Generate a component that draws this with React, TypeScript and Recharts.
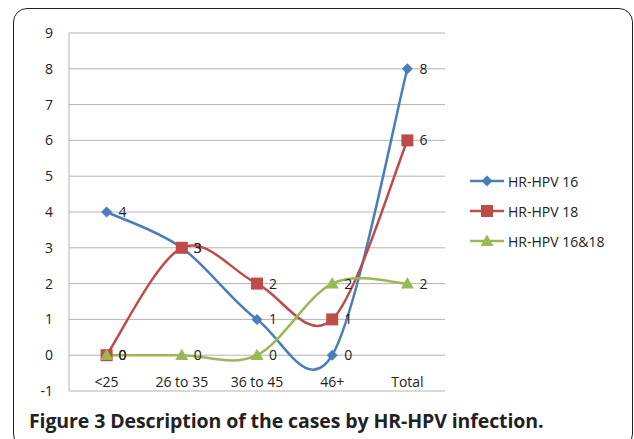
import React from 'react'
import { LineChart, Line, XAxis, YAxis, CartesianGrid } from 'recharts'

const CATEGORIES = ['<25', '26 to 35', '36 to 45', '46+', 'Total']
const HPV16 = [4, 3, 1, 0, 8]
const HPV18 = [0, 3, 2, 1, 6]
const HPV1618 = [0, 0, 0, 2, 2]
const Y_TICKS = [-1, 0, 1, 2, 3, 4, 5, 6, 7, 8, 9]

const BLUE = '#4a7ebb'
const RED = '#be4b48'
const GREEN = '#98b954'
const FONT = '"Open Sans", "Noto Sans", sans-serif'

const data = CATEGORIES.map((name, i) => ({
  name,
  hpv16: HPV16[i],
  hpv18: HPV18[i],
  hpv1618: HPV1618[i],
}))

// Excel-style smoothed line (Catmull-Rom as cubic bezier)
function excelCurve(context: any) {
  let pts: [number, number][] = []
  return {
    areaStart() {},
    areaEnd() {},
    lineStart() {
      pts = []
    },
    point(x: number, y: number) {
      pts.push([+x, +y])
    },
    lineEnd() {
      const n = pts.length
      if (!n) return
      context.moveTo(pts[0][0], pts[0][1])
      for (let i = 0; i < n - 1; i++) {
        const p0 = pts[Math.max(i - 1, 0)]
        const p1 = pts[i]
        const p2 = pts[i + 1]
        const p3 = pts[Math.min(i + 2, n - 1)]
        context.bezierCurveTo(
          p1[0] + (p2[0] - p0[0]) / 6,
          p1[1] + (p2[1] - p0[1]) / 6,
          p2[0] - (p3[0] - p1[0]) / 6,
          p2[1] - (p3[1] - p1[1]) / 6,
          p2[0],
          p2[1]
        )
      }
    },
  }
}

function Diamond({ cx, cy, fill }: any) {
  if (cx == null || cy == null) return null
  const r = 5.5
  return <path d={`M${cx},${cy - r}L${cx + r},${cy}L${cx},${cy + r}L${cx - r},${cy}Z`} fill={fill} />
}

function Square({ cx, cy, fill }: any) {
  if (cx == null || cy == null) return null
  const r = 6
  return <rect x={cx - r} y={cy - r} width={r * 2} height={r * 2} fill={fill} />
}

function Triangle({ cx, cy, fill }: any) {
  if (cx == null || cy == null) return null
  const r = 6.5
  return <path d={`M${cx},${cy - r}L${cx + r},${cy + r * 0.75}L${cx - r},${cy + r * 0.75}Z`} fill={fill} />
}

const SERIES = [
  { key: 'hpv16', name: 'HR-HPV 16', color: BLUE, Dot: Diamond },
  { key: 'hpv18', name: 'HR-HPV 18', color: RED, Dot: Square },
  { key: 'hpv1618', name: 'HR-HPV 16&18', color: GREEN, Dot: Triangle },
]

function XTick({ x, y, payload }: any) {
  return (
    <text x={x} y={y - 12} textAnchor="middle" fontSize={14} fill="#222" fontFamily={FONT}>
      {payload.value}
    </text>
  )
}

export default function App() {
  return (
    <div style={{ position: 'absolute', left: 0, top: 0, width: 634, height: 439, background: '#fff' }}>
      <div
        style={{
          position: 'absolute',
          left: 13,
          top: 8,
          width: 620,
          height: 440,
          border: '1.5px solid #222',
          borderRadius: 14,
          boxSizing: 'border-box',
        }}
      />
      <LineChart
        width={634}
        height={439}
        data={data}
        margin={{ top: 33, right: 189, bottom: 0, left: 0 }}
        style={{ position: 'absolute', left: 0, top: 0 }}
      >
        <CartesianGrid horizontal vertical={false} stroke="#b3b3b3" />
        <XAxis
          dataKey="name"
          axisLine={false}
          tickLine={false}
          tick={<XTick />}
          interval={0}
          height={48}
          padding={{ left: 37.6, right: 37.6 }}
        />
        <YAxis
          domain={[-1, 9]}
          ticks={Y_TICKS}
          interval={0}
          width={69}
          tickLine={false}
          axisLine={{ stroke: '#b3b3b3' }}
          tickMargin={10}
          tick={{ fontSize: 14, fill: '#222', fontFamily: FONT }}
        />
        {SERIES.map(({ key, name, color, Dot }) => (
          <Line
            key={key}
            dataKey={key}
            name={name}
            type={excelCurve as any}
            stroke={color}
            strokeWidth={2.5}
            dot={<Dot fill={color} />}
            activeDot={false}
            isAnimationActive={false}
            label={{ position: 'right', offset: 12, fontSize: 14, fill: '#222', fontFamily: FONT }}
          />
        ))}
      </LineChart>
      <div style={{ position: 'absolute', left: 470, top: 166, fontFamily: FONT, fontSize: 14, color: '#222' }}>
        {SERIES.map(({ key, name, color, Dot }) => (
          <div key={key} style={{ display: 'flex', alignItems: 'center', height: 30 }}>
            <svg width={36} height={16}>
              <line x1={0} y1={8} x2={34} y2={8} stroke={color} strokeWidth={2.5} />
              <Dot cx={17} cy={8} fill={color} />
            </svg>
            <span style={{ marginLeft: 2 }}>{name}</span>
          </div>
        ))}
      </div>
      <div
        style={{
          position: 'absolute',
          left: 29,
          top: 407,
          fontFamily: FONT,
          fontSize: 19.5,
          fontWeight: 700,
          color: '#222',
          whiteSpace: 'nowrap',
          letterSpacing: -0.1,
        }}
      >
        Figure 3 Description of the cases by HR-HPV infection.
      </div>
    </div>
  )
}
